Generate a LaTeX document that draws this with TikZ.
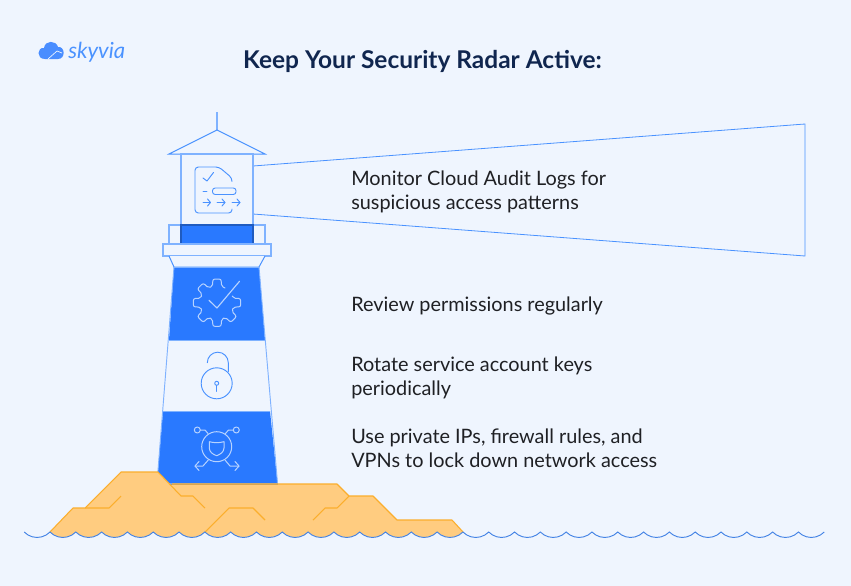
\documentclass[tikz,border=0pt]{standalone}
\usepackage{fontspec}
\setmainfont{Lato}
\definecolor{pagebg}{HTML}{EFF5FE}
\definecolor{towerblue}{HTML}{2979FF}
\definecolor{linkblue}{HTML}{4A92FF}
\definecolor{palelink}{HTML}{7FB2FF}
\definecolor{rockfill}{HTML}{FFCC80}
\definecolor{rockedge}{HTML}{FBAE2D}
\definecolor{navy}{HTML}{10264F}
\definecolor{inktext}{HTML}{1F2024}
\usetikzlibrary{positioning}
\usetikzlibrary{arrows.meta}
\begin{document}
\begin{tikzpicture}[x=0.75pt,y=-0.75pt,
    outline/.style={draw=linkblue,line width=0.75pt,fill=pagebg},
    pale/.style={draw=palelink,line width=1pt,fill=pagebg},
    band/.style={fill=towerblue,draw=none},
    glyph/.style={draw=linkblue,line width=0.7pt,line cap=round,line join=round},
    whiteglyph/.style={draw=white!60!linkblue,line width=0.75pt,line cap=round,line join=round},
    rockline/.style={draw=rockedge,line width=0.8pt,line join=round},
    wave/.style={draw=linkblue!90!black,line width=0.7pt},
    caption/.style={anchor=base west,font=\fontsize{14.9pt}{18pt}\selectfont,text=inktext,inner sep=0pt}]
  \fill[pagebg] (0,0) rectangle (851,586);
  \useasboundingbox (0,0) rectangle (851,586);

  \draw[draw=linkblue,line width=0.6pt,fill=pagebg] (253,166) -- (805,124) -- (805,256) -- (253,214);

  \draw[draw=palelink,line width=1pt] (217,112) -- (217,130);
  \draw[outline] (169,154) -- (217,130) -- (265,154) -- cycle;
  \draw[pale] (181,154) rectangle (253,225);
  \draw[pale] (169,225) rectangle (265,244);
  \draw[fill=towerblue,draw=towerblue!75!black,line width=0.8pt] (181,225) rectangle (253,244);
  \draw[pale] (163,244) rectangle (271,256);
  \draw[outline] (169,256) -- (174,267) -- (259,267) -- (265,256);

  \fill[band] (174,267) -- (259,267) -- (265,340) -- (169,340) -- cycle;
  \fill[band] (163,411) -- (270,411) -- (277.5,483) -- (157,483) -- cycle;
  \draw[draw=palelink,line width=0.7pt] (174,267) -- (157,483) (259,267) -- (277.5,483);
  \draw[draw=palelink,line width=0.7pt] (174,267) -- (259,267) (169,340) -- (265,340) (163,411) -- (270,411);

  \draw[glyph,rounded corners=2.5pt] (232,181) -- (232,178) -- (219,167) -- (195,167) -- (195,213) -- (232,213) -- (232,209);
  \draw[glyph] (203,178) -- (207,181) -- (213.5,172.5);
  \draw[glyph] (203,191) -- (207,191);
  \draw[glyph,rounded corners=2pt] (212.5,188) rectangle (236,194.5);
  \foreach \startx/\endx in {203/210.5,217/225,232/240} {
    \draw[glyph] (\startx,202.5) -- (\endx,202.5);
    \draw[glyph] (\endx-3,199) -- (\endx,202.5) -- (\endx-3,206);
  }

  \draw[whiteglyph,rounded corners=1.5pt] (232.3,296)
    \foreach \gearangle in {0,-45,...,-270} {
      -- ({217+17*cos(\gearangle+15)},{302.7-17*sin(\gearangle+15)})
      -- ({217+24*cos(\gearangle+10)},{302.7-24*sin(\gearangle+10)})
      -- ({217+24*cos(\gearangle-10)},{302.7-24*sin(\gearangle-10)})
      -- ({217+17*cos(\gearangle-15)},{302.7-17*sin(\gearangle-15)})
    } -- (225,288);
  \draw[whiteglyph,line width=0.85pt] (209,300.3) -- (217,308) -- (239.5,281.3);

  \draw[glyph] (216.7,383.3) circle (15.5);
  \draw[glyph] (207.3,362.7) arc (180:360:10.5) -- (228.3,371.5);
  \draw[glyph] (216.7,383.3) circle (2);
  \draw[glyph] (216.7,385.3) -- (216.7,391.5);

  \draw[whiteglyph] (216.7,446.7) circle (15);
  \draw[whiteglyph] (209.3,441.7) .. controls (214,443) and (219,443) .. (224,441.7) -- (224,448) .. controls (224,452) and (220,454.5) .. (216.7,455.7) .. controls (213,454.5) and (209.3,452) .. (209.3,448) -- cycle;
  \draw[whiteglyph] (197.3,430) circle (3);
  \draw[whiteglyph] (236.3,430) circle (3);
  \draw[whiteglyph] (200.5,430) -- (205,430) -- (208,433.5);
  \draw[whiteglyph] (233,430) -- (228.5,430) -- (225.5,433.5);
  \draw[whiteglyph] (208.3,460) -- (203,466) -- (195,466);
  \draw[whiteglyph] (199,461.5) -- (195,466) -- (199,470.5);
  \draw[whiteglyph] (225,460) -- (230,466) -- (239,466);
  \draw[whiteglyph] (235,461.5) -- (239,466) -- (235,470.5);

  \fill[rockfill] (50,532) -- (73,508) -- (85,508) -- (121,472) -- (158,472) -- (170,484) -- (337,484) -- (349,496) -- (373,496) -- (397,520) -- (452,520) -- (463,532)
    \foreach \wavek in {1,...,16} { arc (44.2:135.8:18) } -- cycle;
  \draw[draw=towerblue!75!black,opacity=0.45,line width=0.8pt] (170,484) -- (277.5,484);
  \draw[rockline] (50,532) -- (73,508) -- (85,508) -- (121,472) -- (158,472) -- (181,496) -- (193,496) -- (205,508);
  \draw[rockline] (85,508) -- (109,508) -- (121,496);
  \draw[rockline] (172,484) -- (337,484) -- (349,496) -- (373,496) -- (397,520) -- (452,520) -- (463,532);
  \draw[rockline] (205,532) -- (229,508) -- (253,508) -- (265,520);
  \draw[rockline] (313,520) -- (325,508) -- (337,508) -- (349,496);

  \draw[wave] (24.2,532) \foreach \wavek in {1,...,31} { arc (135.8:44.2:18) };

  \node[anchor=base,inner sep=0pt,font=\fontsize{18.35pt}{22pt}\selectfont\bfseries,text=navy] (headline) at (422.5,68.5) {Keep Your Security Radar Active:};
  \node[caption] (auditlogs) at (351,185) {Monitor Cloud Audit Logs for};
  \node[caption] (auditlogsb) at (351,209) {suspicious access patterns};
  \node[caption] (permissions) at (351,311) {Review permissions regularly};
  \node[caption] (rotatekeys) at (351,371) {Rotate service account keys};
  \node[caption] (rotatekeysb) at (351,395) {periodically};
  \node[caption] (privateips) at (351,443) {Use private IPs, firewall rules, and};
  \node[caption] (privateipsb) at (351,467) {VPNs to lock down network access};

  \fill[towerblue!85!white] (45,59) .. controls (36,59) and (37,47) .. (44,48) .. controls (45,40) and (56,40) .. (58,47) .. controls (65,46) and (66,59) .. (58,59) -- cycle;
  \draw[draw=pagebg,line width=0.5pt] (48,59) -- (57,51) -- (62,53);
  \node[anchor=base west,inner sep=0pt,font=\itshape\fontsize{16.6pt}{18pt}\selectfont,text=linkblue] (logotext) at (68,58) {skyvia};
\end{tikzpicture}
\end{document}
